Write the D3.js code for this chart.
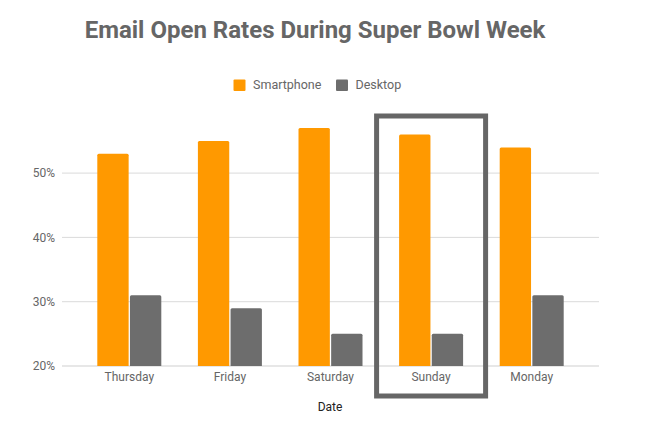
<!DOCTYPE html>
<html>
<head>
<meta charset="utf-8">
<script src="https://cdn.jsdelivr.net/npm/d3@7"></script>
<style>
  html, body { margin: 0; padding: 0; background: #fff; }
  svg { display: block; font-family: Roboto, "Noto Sans", sans-serif; }
</style>
</head>
<body>
<svg id="chart" width="666" height="430"></svg>
<script>
const categories = ["Thursday", "Friday", "Saturday", "Sunday", "Monday"];
const seriesNames = ["Smartphone", "Desktop"];
const smartphone = [53, 55, 57, 56, 54];
const desktop = [31, 29, 25, 25, 31];
const yTicks = [20, 30, 40, 50];
const highlighted = "Sunday";
const colors = ["#ff9900", "#6d6d6d"];

const svg = d3.select("#chart");
const W = 666, H = 430;
const plot = { left: 62, right: 599, top: 110, bottom: 366 };

const x = d3.scaleBand().domain(categories).range([plot.left + 17, plot.right - 17]).paddingInner(0).paddingOuter(0);
const x1 = d3.scaleBand().domain(seriesNames).range([0, 64]).paddingInner(0.04);
const y = d3.scaleLinear().domain([20, 60]).range([plot.bottom, plot.bottom - 4 * 64.3]);

// Title
const title = svg.append("text")
  .attr("x", 315).attr("y", 37.5)
  .attr("text-anchor", "middle")
  .attr("font-size", 24).attr("font-weight", 700)
  .attr("fill", "#666")
  .text("Email Open Rates During Super Bowl Week");
const tw = title.node().getComputedTextLength();
if (Math.abs(tw - 460) > 4) title.attr("textLength", 460).attr("lengthAdjust", "spacingAndGlyphs");

// Legend
const legend = [
  { name: seriesNames[0], color: colors[0], sx: 233.5, tx: 253 },
  { name: seriesNames[1], color: colors[1], sx: 336, tx: 355.5 }
];
legend.forEach(l => {
  svg.append("rect").attr("x", l.sx).attr("y", 79.5).attr("width", 12).attr("height", 11.5).attr("rx", 1).attr("fill", l.color);
  svg.append("text").attr("x", l.tx).attr("y", 89).attr("font-size", 12.5).attr("fill", "#666").text(l.name);
});

// Gridlines
const yAxis = d3.axisLeft(y).tickValues(yTicks).tickSize(0).tickPadding(7).tickFormat(d => d + "%");
const yg = svg.append("g").attr("transform", `translate(${plot.left},0)`).call(yAxis);
yg.select(".domain").remove();
yg.selectAll("text").attr("font-size", 12).attr("fill", "#666").attr("font-family", "Roboto, sans-serif");
svg.append("g").selectAll("line").data(yTicks).join("line")
  .attr("x1", plot.left).attr("x2", plot.right)
  .attr("y1", d => y(d)).attr("y2", d => y(d))
  .attr("stroke", d => d === 20 ? "#cfcfcf" : "#dadada").attr("stroke-width", 1);

// Bars
const data = categories.map((c, i) => ({ cat: c, vals: [smartphone[i], desktop[i]] }));
const groups = svg.append("g").selectAll("g").data(data).join("g")
  .attr("transform", d => `translate(${x(d.cat) + x.bandwidth() / 2 - 32},0)`);
groups.selectAll("path").data(d => d.vals.map((v, j) => ({ v, s: seriesNames[j], j }))).join("path")
  .attr("fill", d => colors[d.j])
  .attr("d", d => {
    const x0 = x1(d.s), w = x1.bandwidth(), yt = y(d.v), yb = y(20), r = 1.5;
    return `M${x0},${yb}V${yt + r}Q${x0},${yt} ${x0 + r},${yt}H${x0 + w - r}Q${x0 + w},${yt} ${x0 + w},${yt + r}V${yb}Z`;
  });

// X axis labels
const xAxis = d3.axisBottom(x).tickSize(0).tickPadding(6);
const xg = svg.append("g").attr("transform", `translate(0,${plot.bottom})`).call(xAxis);
xg.select(".domain").remove();
xg.selectAll("text").attr("font-size", 12).attr("fill", "#666").attr("font-family", "Roboto, sans-serif");

// Axis title
svg.append("text").attr("x", 330).attr("y", 411).attr("text-anchor", "middle")
  .attr("font-size", 12).attr("fill", "#222").text("Date");

// Highlight box
const cx = x(highlighted) + x.bandwidth() / 2;
svg.append("rect")
  .attr("x", cx - 54.5).attr("y", 116)
  .attr("width", 109).attr("height", 280)
  .attr("fill", "none").attr("stroke", "#666").attr("stroke-width", 5);
</script>
</body>
</html>
